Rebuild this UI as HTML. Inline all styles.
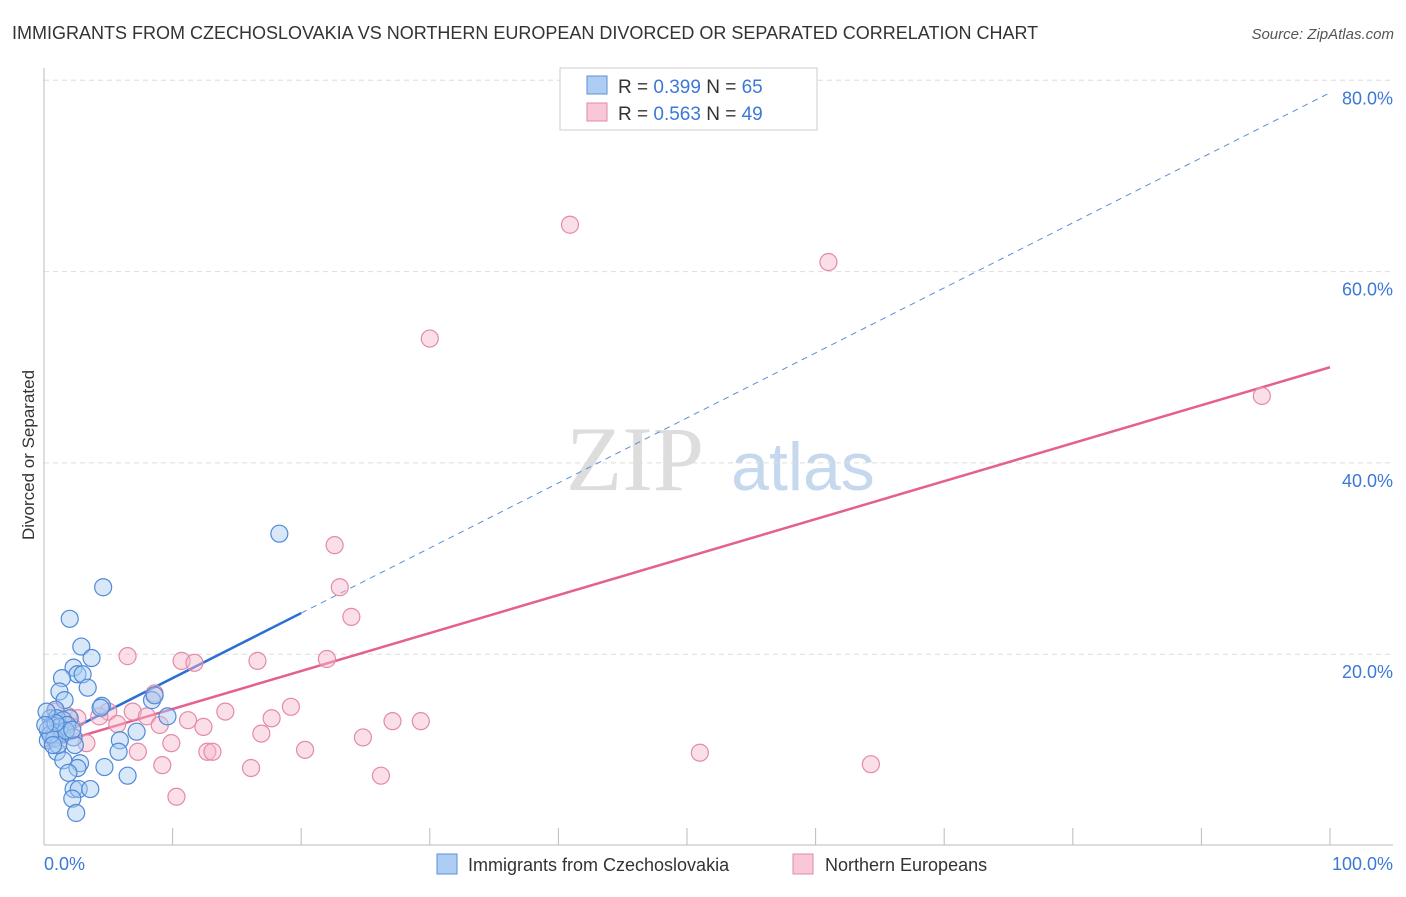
<!DOCTYPE html>
<html><head><meta charset="utf-8"><style>
body{margin:0;background:#fff;font-family:"Liberation Sans",sans-serif;}
</style></head><body>
<svg width="1406" height="892" xmlns="http://www.w3.org/2000/svg" font-family="Liberation Sans, sans-serif">
<text x="12" y="39" font-size="18" fill="#333">IMMIGRANTS FROM CZECHOSLOVAKIA VS NORTHERN EUROPEAN DIVORCED OR SEPARATED CORRELATION CHART</text>
<text x="1394" y="39" font-size="15" fill="#555" font-style="italic" text-anchor="end">Source: ZipAtlas.com</text>
<text x="34" y="455" font-size="17" fill="#333" text-anchor="middle" transform="rotate(-90 34 455)">Divorced or Separated</text>
<g><text x="635" y="490" font-size="92" fill="#ddd" font-family="Liberation Serif, serif" text-anchor="middle">ZIP</text><text x="803" y="490" font-size="68" fill="#c5d8ee" text-anchor="middle">atlas</text></g>
<g id="grid"></g><g id="axes"></g><g id="lines"></g><g id="pts"></g>
<g>
<rect x="560" y="68" width="257" height="62" fill="#fff" stroke="#ccc"/>
<rect x="587" y="76" width="20" height="18" fill="#aecdf3" stroke="#5b8fd6"/>
<rect x="587" y="103" width="20" height="18" fill="#f9c8d6" stroke="#e28aa6"/>
<text x="618" y="93" font-size="19" fill="#333">R = <tspan fill="#3b78d8">0.399</tspan>   N = <tspan fill="#3b78d8">65</tspan></text>
<text x="618" y="120" font-size="19" fill="#333">R = <tspan fill="#3b78d8">0.563</tspan>   N = <tspan fill="#3b78d8">49</tspan></text>
</g>
<g>
<rect x="437" y="854" width="20" height="20" fill="#aecdf3" stroke="#5b8fd6"/>
<text x="468" y="871" font-size="18" fill="#333">Immigrants from Czechoslovakia</text>
<rect x="793" y="854" width="20" height="20" fill="#f9c8d6" stroke="#e28aa6"/>
<text x="825" y="871" font-size="18" fill="#333">Northern Europeans</text>
</g>
</svg>
<script>
const blueX=[18.3,4.6,2.0,2.9,3.7,2.3,2.6,3.0,1.4,3.4,1.2,1.6,0.9,8.4,8.6,4.5,9.6,2.0,0.5,1.0,1.5,0.6,1.2,1.8,0.3,0.9,1.4,2.3,0.3,7.2,5.9,2.4,5.8,1.0,1.5,4.7,2.8,2.6,1.9,6.5,2.3,2.7,3.6,2.2,2.5,0.8,1.1,0.5,1.7,2.2,4.4,0.9,0.2,0.7,0.1];
const blueY=[32.6,27.0,23.7,20.8,19.6,18.6,17.9,17.9,17.5,16.5,16.1,15.2,14.2,15.2,15.7,14.6,13.5,13.3,13.3,13.3,13.1,12.6,12.4,12.6,12.1,11.8,11.6,11.3,11.0,11.9,11.0,10.5,9.8,9.8,8.9,8.2,8.6,8.1,7.6,7.3,5.9,5.9,5.9,4.9,3.4,11.2,10.5,11.6,12.0,12.1,14.4,12.8,14.0,10.5,12.6];
const pinkX=[40.9,61.0,30.0,94.7,22.6,23.0,23.9,6.5,10.7,11.7,16.6,22.0,8.6,19.2,14.1,6.9,5.0,4.3,8.0,17.7,11.2,27.1,29.3,2.6,5.7,12.4,9.0,16.9,24.8,3.3,9.9,7.3,12.7,13.1,20.3,51.0,9.2,16.1,64.3,26.2,10.3,1.4,0.9,1.9,0.5,2.2,1.2];
const pinkY=[64.9,61.0,53.0,47.0,31.4,27.0,23.9,19.8,19.3,19.1,19.3,19.5,15.9,14.5,14.0,14.0,14.0,13.5,13.5,13.3,13.1,13.0,13.0,13.3,12.7,12.4,12.6,11.7,11.3,10.7,10.7,9.8,9.8,9.8,10.0,9.7,8.4,8.1,8.5,7.3,5.1,12.9,14.0,13.5,12.1,12.4,11.0];
const yTicks=[20,40,60,80];
const yTickLabels=["20.0%","40.0%","60.0%","80.0%"];
const xTicks=[0,10,20,30,40,50,60,70,80,90,100];
const blueFit=[10.7,78.7], pinkFit=[10.3,50.0];
const NS="http://www.w3.org/2000/svg";
const sx=v=>44+v*12.86, sy=v=>845.5-v*9.565;
function mk(parent,tag,attrs){const e=document.createElementNS(NS,tag);for(const k in attrs)e.setAttribute(k,attrs[k]);document.getElementById(parent).appendChild(e);return e;}
yTicks.forEach((t,i)=>{
 const l=mk('grid','line',{x1:44,x2:1393,y1:sy(t),y2:sy(t),stroke:'#ddd','stroke-dasharray':'5,4'});
 
 
 const tx=mk('grid','text',{x:1393,y:sy(t)+24,'font-size':18,fill:'#3b78d8','text-anchor':'end'});
 tx.textContent=yTickLabels[i];
 
 
});
let a=mk('axes','line',{x1:44,x2:44,y1:68,y2:845,stroke:'#bbb'});


a=mk('axes','line',{x1:44,x2:1393,y1:845,y2:845,stroke:'#bbb'});


xTicks.forEach(t=>{
 const l=mk('axes','line',{x1:sx(t),x2:sx(t),y1:828,y2:845,stroke:'#bbb'});
 
 
});
let t0=mk('axes','text',{x:44,y:870,'font-size':18,fill:'#3b78d8'});t0.textContent='0.0%';


let t1=mk('axes','text',{x:1393,y:870,'font-size':18,fill:'#3b78d8','text-anchor':'end'});t1.textContent='100.0%';


function pts(xs,ys,fill,stroke,name){xs.forEach((x,i)=>{
 const c=mk('pts','circle',{cx:sx(x),cy:sy(ys[i]),r:8.5,fill:fill,'fill-opacity':0.45,stroke:stroke,'stroke-width':1.2});
 
 
});}
pts(pinkX,pinkY,'#f7b8cb','#e48aa8','pink-point');
pts(blueX,blueY,'#a9cbf2','#4f8ad8','blue-point');
const bAt=x=>blueFit[0]+(blueFit[1]-blueFit[0])*x/100, pAt=x=>pinkFit[0]+(pinkFit[1]-pinkFit[0])*x/100;
let L=mk('lines','line',{x1:sx(20),y1:sy(bAt(20)),x2:sx(100),y2:sy(bAt(100)),stroke:'#5b8fd6','stroke-width':1,'stroke-dasharray':'6,5'});


L=mk('lines','line',{x1:sx(0),y1:sy(bAt(0)),x2:sx(20),y2:sy(bAt(20)),stroke:'#2a6fd6','stroke-width':2.5});


L=mk('lines','line',{x1:sx(0),y1:sy(pAt(0)),x2:sx(100),y2:sy(pAt(100)),stroke:'#e4618e','stroke-width':2.5});


</script>
</body></html>
